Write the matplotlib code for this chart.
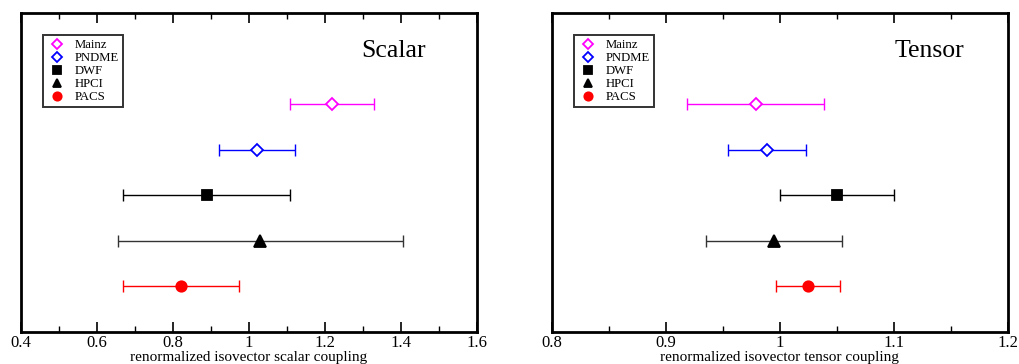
import matplotlib.pyplot as plt
from matplotlib.ticker import MultipleLocator

plt.rcParams['font.family'] = ['Liberation Serif', 'DejaVu Serif']

labels = ['Mainz', 'PNDME', 'DWF', 'HPCI', 'PACS']
ypos = [5, 4, 3, 2, 1]

scalar_val = [1.220, 1.022, 0.890, 1.030, 0.822]
scalar_err = [0.110, 0.100, 0.220, 0.375, 0.152]

tensor_val = [0.979, 0.989, 1.050, 0.995, 1.025]
tensor_err = [0.060, 0.034, 0.050, 0.060, 0.028]

colors = ['magenta', 'blue', 'black', '#333333', 'red']
mcolors = ['magenta', 'blue', 'black', 'black', 'red']
markers = ['D', 'D', 's', '^', 'o']
msizes = [6, 6, 6.5, 8, 7.5]
filled = [False, False, True, True, True]


def draw_panel(ax, vals, errs, title, title_x, xlim, major, minor, xlabel):
    handles = []
    for i in range(len(labels)):
        fc = mcolors[i] if filled[i] else 'white'
        ax.errorbar(vals[i], ypos[i], xerr=errs[i], color=colors[i], lw=1.0,
                    capsize=4, capthick=1.0, fmt='none', zorder=2)
        h, = ax.plot(vals[i], ypos[i], linestyle='none', marker=markers[i],
                     ms=msizes[i], mfc=fc, mec=mcolors[i], mew=1.3, zorder=3)
        handles.append(h)

    ax.set_xlim(xlim)
    ax.set_ylim(0, 7)
    ax.xaxis.set_major_locator(MultipleLocator(major))
    ax.xaxis.set_minor_locator(MultipleLocator(minor))
    ax.xaxis.set_major_formatter(plt.FuncFormatter(lambda v, p: '%g' % round(v, 3)))
    ax.tick_params(axis='x', which='both', direction='in', top=True, bottom=True,
                   labelsize=12, pad=2)
    ax.tick_params(axis='x', which='major', length=7, width=1.2)
    ax.tick_params(axis='x', which='minor', length=4, width=1.0)
    ax.set_yticks([])
    for s in ax.spines.values():
        s.set_linewidth(2)
    ax.set_xlabel(xlabel, fontsize=11, labelpad=0)
    ax.text(title_x, 0.88, title, transform=ax.transAxes, fontsize=18.5,
            ha='right', va='center')

    leg = ax.legend(handles, labels, loc='upper left', bbox_to_anchor=(0.049, 0.93),
                    fontsize=9.2, frameon=True, fancybox=False, shadow=False,
                    markerscale=0.8, labelspacing=0.08, handlelength=1.6,
                    handletextpad=0.6, borderpad=0.3, borderaxespad=0)
    leg.get_frame().set_edgecolor('black')
    leg.get_frame().set_linewidth(1.4)


fig = plt.figure(figsize=(10.19, 3.64), dpi=100)
ax1 = fig.add_axes([0.0203, 0.0879, 0.4475, 0.876])
ax2 = fig.add_axes([0.5414, 0.0879, 0.4475, 0.876])

draw_panel(ax1, scalar_val, scalar_err, 'Scalar', 0.889, (0.4, 1.6), 0.2, 0.1,
           'renormalized isovector scalar coupling')
draw_panel(ax2, tensor_val, tensor_err, 'Tensor', 0.904, (0.8, 1.2), 0.1, 0.05,
           'renormalized isovector tensor coupling')

fig.savefig('out.png', dpi=100)
